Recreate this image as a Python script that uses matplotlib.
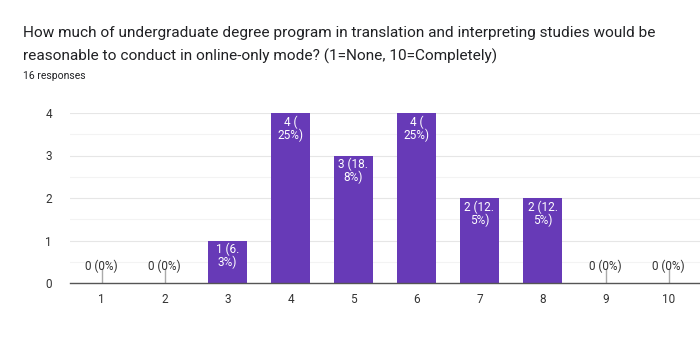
import matplotlib
matplotlib.use("Agg")
import matplotlib.pyplot as plt

categories = ["1", "2", "3", "4", "5", "6", "7", "8", "9", "10"]
counts = [0, 0, 1, 4, 3, 4, 2, 2, 0, 0]
labels = ["0 (0%)", "0 (0%)", "1 (6.\n3%)", "4 (\n25%)", "3 (18.\n8%)",
          "4 (\n25%)", "2 (12.\n5%)", "2 (12.\n5%)", "0 (0%)", "0 (0%)"]
yticks = [0, 1, 2, 3, 4]
title = "How much of undergraduate degree program in translation and interpreting studies would be\nreasonable to conduct in online-only mode? (1=None, 10=Completely)"
subtitle = "16 responses"

plt.rcParams['font.family'] = ['Roboto', 'DejaVu Sans']
fig = plt.figure(figsize=(7, 3.55), dpi=100)
ax = fig.add_axes([70/700, 1-283/355, 630/700, 170/355])

x = list(range(len(categories)))
ax.bar(x, counts, width=0.62, color="#673ab7", zorder=3)
for xi, c, lab in zip(x, counts, labels):
    if c > 0:
        ax.text(xi, c - 0.05, lab, ha="center", va="top", color="white",
                fontsize=8.5, linespacing=1.0, zorder=4)
    else:
        ax.plot([xi, xi], [0, 0.33], color="#aaaaaa", lw=1, zorder=2)
        ax.text(xi, 0.4, lab, ha="center", va="center", color="#333333",
                fontsize=8.5, zorder=4)

ax.set_xlim(-0.5, len(categories) - 0.5)
ax.set_ylim(0, 4)
ax.set_yticks(yticks)
ax.set_yticks([0.5, 1.5, 2.5, 3.5], minor=True)
ax.set_xticks(x)
ax.set_xticklabels(categories)
ax.grid(axis="y", which="major", color="#e6e6e6", lw=0.8, zorder=0)
ax.grid(axis="y", which="minor", color="#f3f3f3", lw=0.8, zorder=0)
ax.tick_params(axis="both", which="both", length=0, labelsize=8.5, colors="#333333")
ax.tick_params(axis="y", pad=13)
ax.tick_params(axis="x", pad=7)
for s in ["top", "right", "left"]:
    ax.spines[s].set_visible(False)
ax.spines["bottom"].set_color("#555555")
ax.spines["bottom"].set_linewidth(1)
ax.spines["bottom"].set_zorder(5)

fig.text(23/700, 1-45/355, title, fontsize=11.1, color="#202124", ha="left",
         va="center", linespacing=1.7)
fig.text(23/700, 1-76/355, subtitle, fontsize=7.5, color="#202124", ha="left", va="center")

fig.savefig("out.png", dpi=100)
